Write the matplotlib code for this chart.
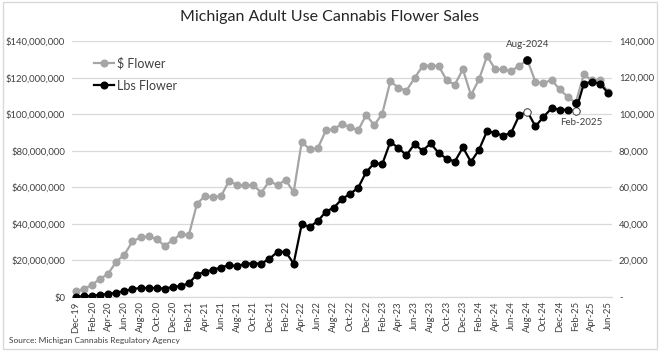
import matplotlib
matplotlib.use("Agg")
import matplotlib.pyplot as plt
from matplotlib.ticker import FuncFormatter, MultipleLocator
import matplotlib.patches as mpatches

plt.rcParams['font.family'] = ['Lato', 'DejaVu Sans']

months = ["Dec-19",
          "Jan-20", "Feb-20", "Mar-20", "Apr-20", "May-20", "Jun-20", "Jul-20", "Aug-20", "Sep-20", "Oct-20", "Nov-20", "Dec-20",
          "Jan-21", "Feb-21", "Mar-21", "Apr-21", "May-21", "Jun-21", "Jul-21", "Aug-21", "Sep-21", "Oct-21", "Nov-21", "Dec-21",
          "Jan-22", "Feb-22", "Mar-22", "Apr-22", "May-22", "Jun-22", "Jul-22", "Aug-22", "Sep-22", "Oct-22", "Nov-22", "Dec-22",
          "Jan-23", "Feb-23", "Mar-23", "Apr-23", "May-23", "Jun-23", "Jul-23", "Aug-23", "Sep-23", "Oct-23", "Nov-23", "Dec-23",
          "Jan-24", "Feb-24", "Mar-24", "Apr-24", "May-24", "Jun-24", "Jul-24", "Aug-24", "Sep-24", "Oct-24", "Nov-24", "Dec-24",
          "Jan-25", "Feb-25", "Mar-25", "Apr-25", "May-25", "Jun-25"]

# $ Flower sales (millions of dollars)
dollar_flower_m = [3.3,
                   4.4, 6.8, 9.9, 12.8, 19.4, 23.1, 30.4, 32.6, 33.1, 31.7, 28.0, 31.1,
                   34.4, 33.9, 50.9, 55.3, 54.5, 55.3, 63.5, 61.1, 61.1, 61.1, 57.1, 63.5,
                   61.1, 64.1, 57.3, 84.7, 80.9, 81.4, 91.1, 91.9, 94.6, 93.0, 91.1, 99.6,
                   93.9, 100.3, 118.0, 114.4, 112.9, 119.7, 126.3, 126.6, 126.3, 118.4, 116.2, 124.5,
                   110.4, 119.0, 131.8, 124.5, 124.5, 123.5, 126.6, 129.6, 117.7, 116.9, 118.8, 113.5,
                   109.5, 106.2, 121.7, 118.5, 118.6, 112.0]

# Lbs Flower (thousands of pounds)
lbs_flower_k = [0.2,
                0.4, 0.6, 1.3, 1.6, 2.4, 3.3, 4.4, 4.9, 4.9, 4.9, 4.6, 5.5,
                6.0, 7.5, 12.3, 13.7, 15.0, 16.1, 17.6, 16.8, 18.3, 18.3, 18.3, 20.9,
                24.7, 24.7, 18.3, 39.7, 38.4, 41.5, 46.7, 48.9, 53.6, 56.4, 59.7, 68.3,
                73.2, 72.7, 84.9, 81.4, 77.6, 83.6, 80.0, 84.0, 78.7, 75.6, 74.1, 81.8,
                73.9, 80.5, 90.8, 89.7, 88.2, 89.9, 99.4, 101.4, 93.3, 98.5, 103.2, 102.5,
                102.3, 101.6, 116.6, 117.7, 116.6, 111.7]

highlight_months = ["Aug-24", "Feb-25"]
highlight_labels = ["Aug-2024", "Feb-2025"]

dollars = [v * 1e6 for v in dollar_flower_m]
lbs = [v * 1e3 for v in lbs_flower_k]
x = list(range(len(months)))

GRAY = "#A5A5A5"
GRID = "#D9D9D9"
TXT = "#404040"

fig = plt.figure(figsize=(6.6, 3.51), dpi=100)
fig.patches.append(mpatches.Rectangle((0.004, 0.006), 0.992, 0.988, transform=fig.transFigure,
                                      fill=False, edgecolor=GRID, linewidth=1.0))
ax = fig.add_axes([72/660, 1-297/351, 540/660, 256/351])
ax2 = ax.twinx()

ax.set_xlim(-0.5, len(months) - 0.5)
ax.set_ylim(0, 140e6)
ax2.set_ylim(0, 140e3)

ax.yaxis.set_major_locator(MultipleLocator(20e6))
ax2.yaxis.set_major_locator(MultipleLocator(20e3))
ax.grid(axis='y', color=GRID, linewidth=0.9)
ax.set_axisbelow(True)

l1, = ax.plot(x, dollars, color=GRAY, marker='o', markersize=4.8, linewidth=1.6, label="$ Flower", zorder=3)
l2, = ax2.plot(x, lbs, color='black', marker='o', markersize=4.8, linewidth=1.6, label="Lbs Flower", zorder=4)

for m in highlight_months:
    i = months.index(m)
    ax2.plot([i], [lbs[i]], marker='o', markersize=5.2, markerfacecolor='white', markeredgecolor='#606060',
             markeredgewidth=0.7, linestyle='none', zorder=6)
    ax2.plot([i], [dollars[i] / 1000.0], marker='o', markersize=5.2, color='black', linestyle='none', zorder=6)

ia = months.index("Aug-24")
ax.annotate("Aug-2024", (ia, dollars[ia]), xytext=(0, 8), textcoords='offset points',
            ha='center', va='bottom', fontsize=7, color=TXT)
ib = months.index("Feb-25")
ax2.annotate("Feb-2025", (ib, lbs[ib]), xytext=(4, -5), textcoords='offset points',
             ha='center', va='top', fontsize=7, color=TXT)

ax.yaxis.set_major_formatter(FuncFormatter(lambda v, p: "$0" if v == 0 else "${:,.0f}".format(v)))
ax2.yaxis.set_major_formatter(FuncFormatter(lambda v, p: "-" if v == 0 else "{:,.0f}".format(v)))

ax.set_xticks(x[::2])
ax.set_xticklabels(months[::2], rotation=90, fontsize=6.8, color=TXT)
ax.tick_params(axis='x', length=0, pad=3)
ax.tick_params(axis='y', length=0, labelsize=6.8, labelcolor=TXT, pad=5)
ax2.tick_params(axis='y', length=0, labelsize=6.8, labelcolor=TXT, pad=5)

for a in (ax, ax2):
    for s in ['top', 'left', 'right']:
        a.spines[s].set_visible(False)
    a.spines['bottom'].set_color(GRID)

leg = ax2.legend(handles=[l1, l2], loc='upper left', bbox_to_anchor=(0.02, 0.98), frameon=False,
                 fontsize=9, handlelength=1.6, handletextpad=0.2, labelspacing=0.8)
for t in leg.get_texts():
    t.set_color(TXT)

fig.text(0.5, 1-17/351, "Michigan Adult Use Cannabis Flower Sales", ha='center', va='center',
         fontsize=11.5, color='#262626')
fig.text(9/660, 1-340/351, "Source: Michigan Cannabis Regulatory Agency", ha='left', va='center',
         fontsize=6, color=TXT)

fig.savefig("out.png", dpi=100)
